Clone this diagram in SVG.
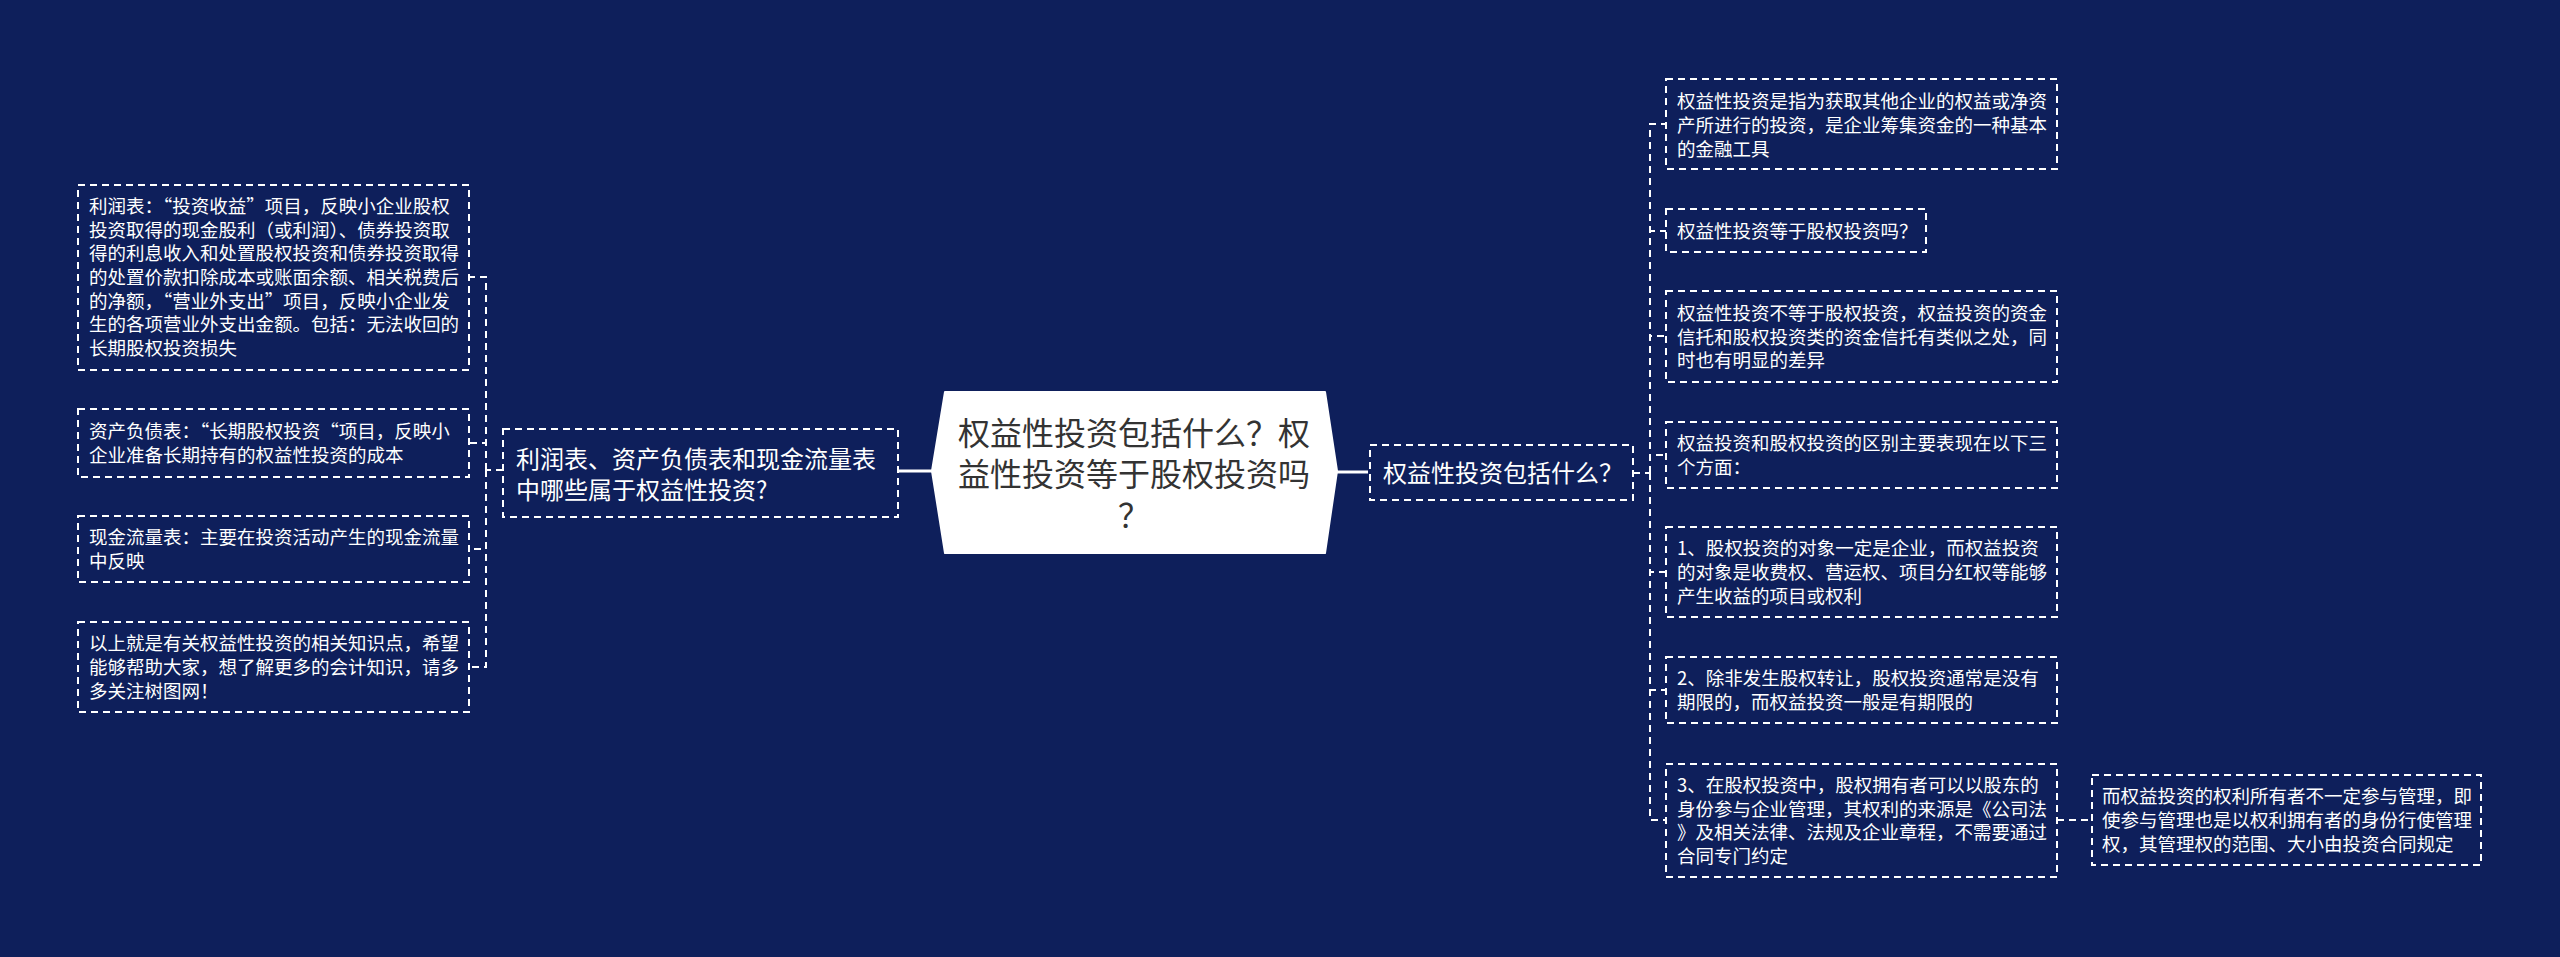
<svg xmlns="http://www.w3.org/2000/svg" width="2560" height="957" viewBox="0 0 2560 957">
<defs>
<style>
.bg{fill:#0e1f5b}
.box{fill:none;stroke:#ffffff;stroke-width:2;stroke-dasharray:7 5}
.con{fill:none;stroke:#ffffff;stroke-width:2;stroke-dasharray:7 5}
.solid{fill:none;stroke:#ffffff;stroke-width:3}
.t{font-family:"Noto Sans CJK SC","Noto Sans",sans-serif;fill:#ffffff;font-size:18.5px}
.m{font-family:"Noto Sans CJK SC","Noto Sans",sans-serif;fill:#ffffff;font-size:24px}
.c{font-family:"Noto Sans CJK SC","Noto Sans",sans-serif;fill:#333333;font-size:32px;text-anchor:middle}
</style>
</defs>
<rect class="bg" x="0" y="0" width="2560" height="957"/>

<g id="connectors">
<path class="solid" d="M898 471 H934"/>
<path class="solid" d="M1337 472 H1368"/>
<path class="con" d="M503 470 H486"/>
<path class="con" d="M486 470 V277 H469"/>
<path class="con" d="M486 470 V443 H469"/>
<path class="con" d="M486 470 V549 H469"/>
<path class="con" d="M486 470 V667 H469"/>
<path class="con" d="M1633 473 H1650"/>
<path class="con" d="M1650 473 V124 H1666"/>
<path class="con" d="M1650 473 V231 H1666"/>
<path class="con" d="M1650 473 V336 H1666"/>
<path class="con" d="M1650 473 V455 H1666"/>
<path class="con" d="M1650 473 V572 H1666"/>
<path class="con" d="M1650 473 V690 H1666"/>
<path class="con" d="M1650 473 V820 H1666"/>
<path class="con" d="M2057 820 H2092"/>
</g>

<g id="root">
<path d="M945 392 H1325 L1337 471 L1325 553 H945 L932 471 Z" fill="#ffffff" stroke="#ffffff" stroke-width="2" stroke-linejoin="round"/>
<text class="c" x="1134" y="445">权益性投资包括什么？权</text>
<text class="c" x="1134" y="486">益性投资等于股权投资吗</text>
<text class="c" x="1134" y="527">？</text>
</g>

<g id="left-main">
<rect class="box" x="503" y="429" width="395" height="88"/>
<text class="m" x="516" y="468">利润表、资产负债表和现金流量表</text>
<text class="m" x="516" y="499">中哪些属于权益性投资?</text>
</g>

<g id="left-1">
<rect class="box" x="78" y="185" width="391" height="185"/>
<text class="t" x="89" y="213">利润表：“投资收益”项目，反映小企业股权</text>
<text class="t" x="89" y="236.7">投资取得的现金股利（或利润）、债券投资取</text>
<text class="t" x="89" y="260.3">得的利息收入和处置股权投资和债券投资取得</text>
<text class="t" x="89" y="284">的处置价款扣除成本或账面余额、相关税费后</text>
<text class="t" x="89" y="307.7">的净额，“营业外支出”项目，反映小企业发</text>
<text class="t" x="89" y="331.3">生的各项营业外支出金额。包括：无法收回的</text>
<text class="t" x="89" y="355">长期股权投资损失</text>
</g>

<g id="left-2">
<rect class="box" x="78" y="409" width="391" height="68"/>
<text class="t" x="89" y="438">资产负债表：“长期股权投资“项目，反映小</text>
<text class="t" x="89" y="462">企业准备长期持有的权益性投资的成本</text>
</g>

<g id="left-3">
<rect class="box" x="78" y="516" width="391" height="66"/>
<text class="t" x="89" y="544">现金流量表：主要在投资活动产生的现金流量</text>
<text class="t" x="89" y="568">中反映</text>
</g>

<g id="left-4">
<rect class="box" x="78" y="622" width="391" height="90"/>
<text class="t" x="89" y="650.3">以上就是有关权益性投资的相关知识点，希望</text>
<text class="t" x="89" y="674">能够帮助大家，想了解更多的会计知识，请多</text>
<text class="t" x="89" y="697.7">多关注树图网！</text>
</g>

<g id="right-main">
<rect class="box" x="1370" y="445" width="263" height="55"/>
<text class="m" x="1383" y="482">权益性投资包括什么？</text>
</g>

<g id="right-1">
<rect class="box" x="1666" y="79" width="391" height="90"/>
<text class="t" x="1677" y="108.3">权益性投资是指为获取其他企业的权益或净资</text>
<text class="t" x="1677" y="132">产所进行的投资，是企业筹集资金的一种基本</text>
<text class="t" x="1677" y="155.7">的金融工具</text>
</g>

<g id="right-2">
<rect class="box" x="1666" y="209" width="260" height="43"/>
<text class="t" x="1677" y="238">权益性投资等于股权投资吗？</text>
</g>

<g id="right-3">
<rect class="box" x="1666" y="291" width="391" height="91"/>
<text class="t" x="1677" y="320">权益性投资不等于股权投资，权益投资的资金</text>
<text class="t" x="1677" y="343.7">信托和股权投资类的资金信托有类似之处，同</text>
<text class="t" x="1677" y="367.3">时也有明显的差异</text>
</g>

<g id="right-4">
<rect class="box" x="1666" y="422" width="391" height="66"/>
<text class="t" x="1677" y="450">权益投资和股权投资的区别主要表现在以下三</text>
<text class="t" x="1677" y="474">个方面：</text>
</g>

<g id="right-5">
<rect class="box" x="1666" y="527" width="391" height="90"/>
<text class="t" x="1677" y="555.3">1、股权投资的对象一定是企业，而权益投资</text>
<text class="t" x="1677" y="579">的对象是收费权、营运权、项目分红权等能够</text>
<text class="t" x="1677" y="602.7">产生收益的项目或权利</text>
</g>

<g id="right-6">
<rect class="box" x="1666" y="657" width="391" height="66"/>
<text class="t" x="1677" y="685">2、除非发生股权转让，股权投资通常是没有</text>
<text class="t" x="1677" y="709">期限的，而权益投资一般是有期限的</text>
</g>

<g id="right-7">
<rect class="box" x="1666" y="764" width="391" height="113"/>
<text class="t" x="1677" y="792">3、在股权投资中，股权拥有者可以以股东的</text>
<text class="t" x="1677" y="815.7">身份参与企业管理，其权利的来源是《公司法</text>
<text class="t" x="1677" y="839.3">》及相关法律、法规及企业章程，不需要通过</text>
<text class="t" x="1677" y="863">合同专门约定</text>
</g>

<g id="right-7-1">
<rect class="box" x="2092" y="775" width="389" height="90"/>
<text class="t" x="2102" y="803.3">而权益投资的权利所有者不一定参与管理，即</text>
<text class="t" x="2102" y="827">使参与管理也是以权利拥有者的身份行使管理</text>
<text class="t" x="2102" y="850.7">权，其管理权的范围、大小由投资合同规定</text>
</g>
</svg>
